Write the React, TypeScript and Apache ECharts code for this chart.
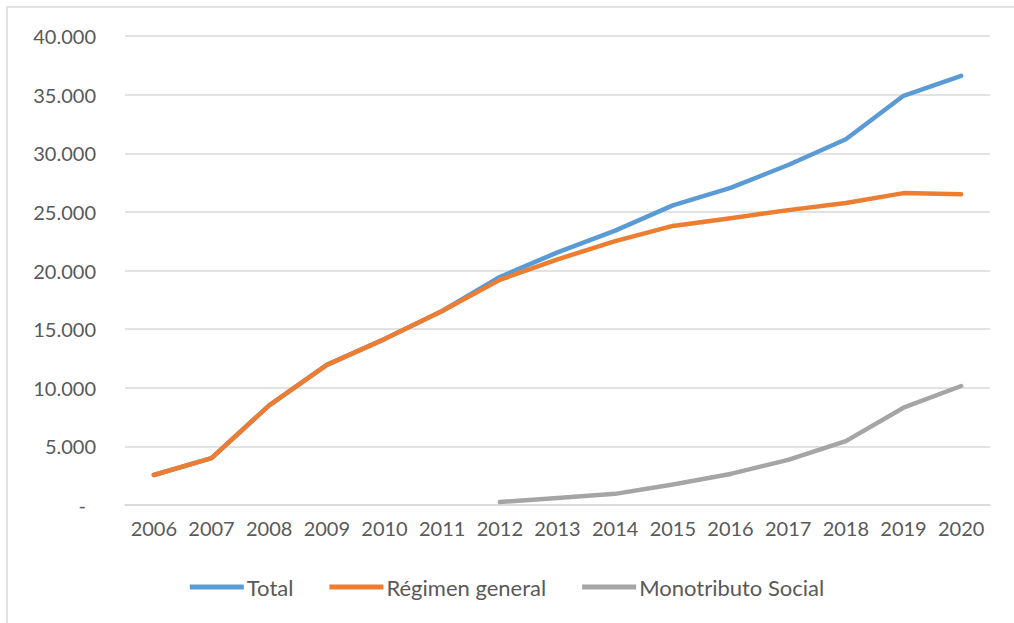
import React, { useEffect, useRef } from "react";
import * as echarts from "echarts";

const years = ["2006", "2007", "2008", "2009", "2010", "2011", "2012", "2013", "2014", "2015", "2016", "2017", "2018", "2019", "2020"];
const total = [2560, 4000, 8500, 11950, 14150, 16550, 19450, 21550, 23400, 25550, 27050, 29000, 31200, 34900, 36600];
const regimenGeneral = [2560, 4000, 8500, 11950, 14150, 16550, 19200, 20950, 22500, 23800, 24450, 25150, 25750, 26600, 26500];
const monotributoSocial = [null, null, null, null, null, null, 250, 600, 950, 1750, 2650, 3850, 5450, 8300, 10150];

const seriesNames = ["Total", "Régimen general", "Monotributo Social"];
const colors = ["#5b9bd5", "#ed7d31", "#a5a5a5"];

export default function App() {
  const ref = useRef<HTMLDivElement>(null);
  useEffect(() => {
    document.body.style.margin = "0";
    const chart = echarts.init(ref.current!, null, { renderer: "svg" });
    const font = "Lato, 'Open Sans', sans-serif";
    chart.setOption({
      animation: false,
      color: colors,
      textStyle: { fontFamily: font },
      graphic: [
        {
          type: "rect",
          shape: { x: 7, y: 7, width: 1100, height: 700 },
          style: { fill: "none", stroke: "#d9d9d9", lineWidth: 1.5 },
          silent: true,
          z: -1,
        },
      ],
      grid: { left: 125, right: 24, top: 36, bottom: 118, containLabel: false },
      legend: {
        bottom: 20,
        left: "center",
        itemWidth: 54,
        itemHeight: 5,
        itemGap: 36,
        icon: "rect",
        data: seriesNames,
        textStyle: { fontFamily: font, fontSize: 22, color: "#595959", padding: [0, 0, 0, -2] },
      },
      xAxis: {
        type: "category",
        data: years,
        boundaryGap: true,
        axisLine: { show: true, lineStyle: { color: "#d9d9d9", width: 1.5 } },
        axisTick: { show: false },
        axisLabel: { fontFamily: font, fontSize: 20, color: "#595959", margin: 13, interval: 0 },
      },
      yAxis: {
        type: "value",
        min: 0,
        max: 40000,
        interval: 5000,
        axisLine: { show: false },
        axisTick: { show: false },
        splitLine: { lineStyle: { color: "#d9d9d9", width: 1.5 } },
        axisLabel: {
          fontFamily: font,
          fontSize: 20,
          color: "#595959",
          margin: 29,
          formatter: (v: number) => (v === 0 ? "{d|-}" : (v / 1000).toFixed(3)),
          rich: { d: { fontFamily: font, fontSize: 20, color: "#595959", padding: [0, 10, 0, 0] } },
        },
      },
      series: [
        { name: seriesNames[0], type: "line", data: total, symbol: "none", lineStyle: { width: 4.5, cap: "round", join: "round" } },
        { name: seriesNames[1], type: "line", data: regimenGeneral, symbol: "none", lineStyle: { width: 4.5, cap: "round", join: "round" } },
        { name: seriesNames[2], type: "line", data: monotributoSocial, symbol: "none", lineStyle: { width: 4.5, cap: "round", join: "round" } },
      ],
    });
    return () => chart.dispose();
  }, []);
  return <div ref={ref} style={{ width: 1014, height: 623 }} />;
}
